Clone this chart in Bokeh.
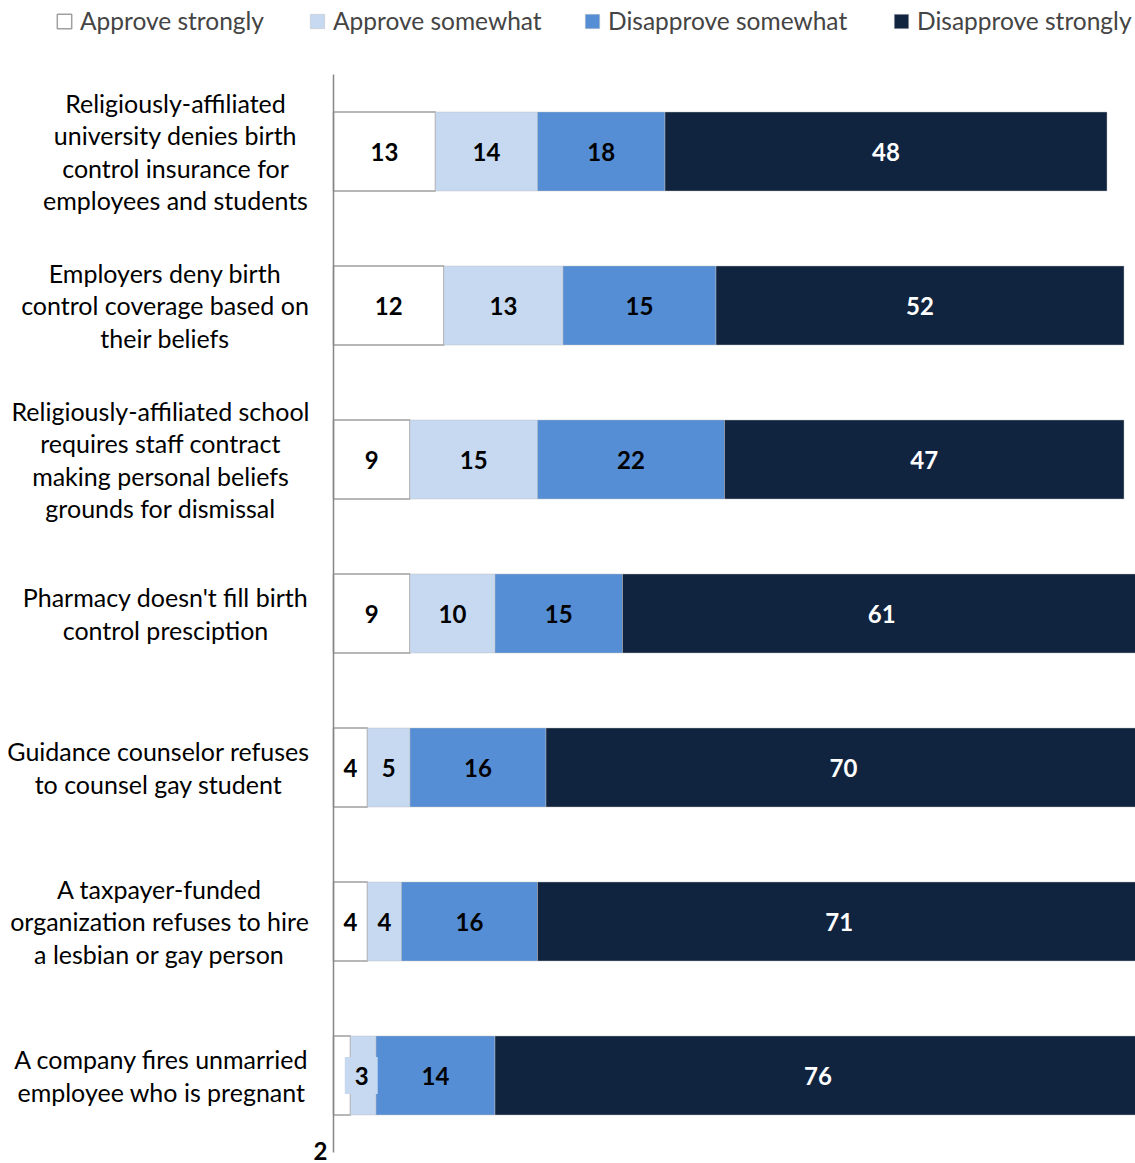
import numpy as np
from bokeh.plotting import figure
from bokeh.models import ColumnDataSource, Range1d, Label, Legend, LegendItem
from bokeh.core.properties import value
from bokeh.embed import file_html
from bokeh.resources import INLINE

categories = [
    "Religiously-affiliated\nuniversity denies birth\ncontrol insurance for\nemployees and students",
    "Employers deny birth\ncontrol coverage based on\ntheir beliefs",
    "Religiously-affiliated school\nrequires staff contract\nmaking personal beliefs\ngrounds for dismissal",
    "Pharmacy doesn't fill birth\ncontrol presciption",
    "Guidance counselor refuses\nto counsel gay student",
    "A taxpayer-funded\norganization refuses to hire\na lesbian or gay person",
    "A company fires unmarried\nemployee who is pregnant",
]
series_names = ["Approve strongly", "Approve somewhat", "Disapprove somewhat", "Disapprove strongly"]

# bar lengths as drawn in the picture
approve_strongly = [12, 13, 9, 9, 4, 4, 2]
approve_somewhat = [12, 14, 15, 10, 5, 4, 3]
disapprove_somewhat = [15, 18, 22, 15, 16, 16, 14]
disapprove_strongly = [52, 48, 47, 61, 70, 71, 76]

# data labels as printed in the picture
label_approve_strongly = [13, 12, 9, 9, 4, 4, 2]
label_approve_somewhat = [14, 13, 15, 10, 5, 4, 3]
label_disapprove_somewhat = [18, 15, 22, 15, 16, 16, 14]
label_disapprove_strongly = [48, 52, 47, 61, 70, 71, 76]

FONT = "Lato"
colors = ["#FFFFFF", "#C6D9F1", "#558ED5", "#10243F"]
text_colors = ["#000000", "#000000", "#000000", "#FFFFFF"]

series = [approve_strongly, approve_somewhat, disapprove_somewhat, disapprove_strongly]
labels = [label_approve_strongly, label_approve_somewhat, label_disapprove_somewhat, label_disapprove_strongly]

W, H = 1135, 1163
X0, PX_PER_UNIT = 333.0, 8.5        # screen x of value 0, pixels per percentage point
Y0, PX_PER_ROW = 151.0, 154.0       # screen y of first row centre, pixels per row

p = figure(width=W, height=H, output_backend="svg", toolbar_location=None,
           x_range=Range1d(-X0 / PX_PER_UNIT, (W - X0) / PX_PER_UNIT),
           y_range=Range1d((H - Y0) / PX_PER_ROW, -Y0 / PX_PER_ROW),
           min_border=0, min_border_left=0, min_border_right=0, min_border_top=0, min_border_bottom=0)
p.outline_line_color = None
p.grid.visible = False
p.axis.visible = False

n = len(categories)
rows = list(range(n))
arr = np.array(series, dtype=float)
rights = np.cumsum(arr, axis=0)
lefts = rights - arr

renderers = []
for i, name in enumerate(series_names):
    src = ColumnDataSource(dict(y=rows, left=lefts[i], right=rights[i]))
    if i == 0:
        r = p.hbar(y="y", left="left", right="right", height=0.513, source=src,
                   fill_color=colors[i], line_color="#A0A0A0", line_width=1.5)
    else:
        r = p.hbar(y="y", left="left", right="right", height=0.513, source=src,
                   fill_color=colors[i], line_color="#BFBFBF", line_alpha=0.45, line_width=1)
    renderers.append(r)

# vertical category axis line
p.segment(x0=[0], y0=[-0.5], x1=[0], y1=[n - 0.5], line_color="#868686", line_width=1.5)

# value labels
lx, ly, lt, lc = [], [], [], []
for i in range(4):
    for j in rows:
        if j == n - 1 and i in (0, 1):
            continue
        lx.append((lefts[i][j] + rights[i][j]) / 2)
        ly.append(j)
        lt.append(str(labels[i][j]))
        lc.append(text_colors[i])
p.text(x=lx, y=ly, text=lt, text_color=lc, text_font=value(FONT), text_font_style="bold",
       text_font_size="24px", text_align="center", text_baseline="middle")

# special labels on last row
p.add_layout(Label(x=(lefts[1][n - 1] + rights[1][n - 1]) / 2, y=n - 1, x_offset=-2,
                   text=str(label_approve_somewhat[n - 1]), text_color="#000000",
                   text_font=FONT, text_font_style="bold", text_font_size="24px",
                   text_align="center", text_baseline="middle",
                   background_fill_color=colors[1], padding=(10, 9, 10, 9)))
p.text(x=[0], y=[n - 1], x_offset=-13, y_offset=84, text=[str(label_approve_strongly[n - 1])],
       text_color="#000000", text_font=value(FONT), text_font_style="bold",
       text_font_size="24px", text_align="center", text_baseline="bottom")

# category labels (centred lines)
cat_centers_px = [175, 164.5, 160, 165, 158, 159, 161]
cat_x = [(c - X0) / PX_PER_UNIT for c in cat_centers_px]
p.text(x=cat_x, y=rows, text=categories, text_font=value(FONT), text_font_size="25px",
       text_align="center", text_baseline="middle", text_line_height=1.08, text_color="#000000")

# legends
leg_x = [55, 308, 583, 892]
for i, name in enumerate(series_names):
    leg = Legend(items=[LegendItem(label=name, renderers=[renderers[i]])], location=(leg_x[i], H - 35),
                 orientation="horizontal", padding=0, margin=0, border_line_alpha=0,
                 background_fill_alpha=0, glyph_width=18, glyph_height=18, label_standoff=7,
                 label_text_font=FONT, label_text_font_size="24.5px", label_height=18)
    p.add_layout(leg)

open("out.html", "w").write(file_html(p, INLINE))
